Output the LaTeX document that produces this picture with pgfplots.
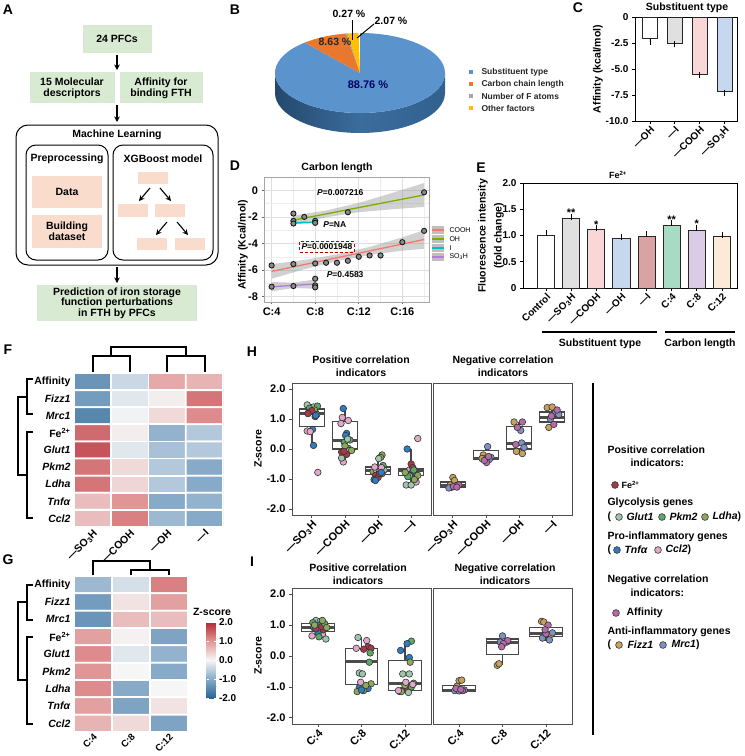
\documentclass[border=0pt]{standalone}
\usepackage{fontspec}
\setmainfont{Liberation Sans}
\usepackage{pgfplots}
\pgfplotsset{compat=1.18}
\usepgfplotslibrary{statistics}
\usetikzlibrary{arrows.meta}

\newcommand{\fsz}[2]{\fontsize{#1}{#2}\selectfont}

\definecolor{boxgreen}{HTML}{D9EAD3}
\definecolor{boxpeach}{HTML}{F9DCCB}
\definecolor{pieblue}{HTML}{5B94CD}
\definecolor{piebluedk}{HTML}{2D5B88}
\definecolor{pieorange}{HTML}{E9782F}
\definecolor{piegray}{HTML}{A5A5A5}
\definecolor{piegold}{HTML}{FFC000}
\definecolor{ggred}{HTML}{F8766D}
\definecolor{gggreen}{HTML}{7CAE00}
\definecolor{ggcyan}{HTML}{00BFC4}
\definecolor{ggpurple}{HTML}{C77CFF}
\definecolor{cFe}{HTML}{A63A4B}
\definecolor{cGlut}{HTML}{A0C4AE}
\definecolor{cPkm}{HTML}{5DA864}
\definecolor{cLdha}{HTML}{8DAA5A}
\definecolor{cTnf}{HTML}{2E7DC0}
\definecolor{cCcl}{HTML}{E2A8C8}
\definecolor{cAff}{HTML}{B56BA8}
\definecolor{cFizz}{HTML}{C8A25C}
\definecolor{cMrc}{HTML}{7F92C4}
\definecolor{frm}{HTML}{4D4D4D}
\definecolor{bGray}{HTML}{E0E0E0}
\definecolor{bPink}{HTML}{F9D6D7}
\definecolor{bBlue}{HTML}{C7D7ED}
\definecolor{bRose}{HTML}{D9A3A4}
\definecolor{bMint}{HTML}{A7DBC3}
\definecolor{bLav}{HTML}{DACCE6}
\definecolor{bPeach}{HTML}{FCEAD7}

\pgfplotsset{
  every axis/.append style={scale only axis,
    font=\bfseries\fsz{10.5}{12},
    tick label style={font=\bfseries\fsz{10}{11}}},
  colormap={zs}{rgb255(0cm)=(42,100,148); rgb255(1cm)=(135,170,200);
    rgb255(2cm)=(246,246,246); rgb255(3cm)=(225,150,150); rgb255(4cm)=(180,40,50)},
  gpbar/.style 2 args={ybar, bar shift=0pt, bar width=#1, fill=#2, draw=black!85,
    line width=0.8pt, error bars/y explicit,
    error bars/error bar style={line width=0.8pt, black},
    error bars/error mark options={line width=0.8pt, mark size=3pt, black}},
  boxpanel/.style={ymin=-2.2, ymax=2.2, axis line style={frm, line width=1pt},
    tick pos=left, tick align=outside, major tick length=3pt,
    tick style={frm, line width=0.8pt},
    tick label style={font=\bfseries\fsz{11}{12}},
    xticklabel style={rotate=45, anchor=north east, inner sep=1pt}},
  bx/.style={draw=black!72, line width=1.3pt, fill=white,
    boxplot/draw direction=y,
    boxplot/box extend=0.75, boxplot/whisker extend=0,
    boxplot/every median/.style={draw=black!70, line width=3pt}},
  jit/.style={scatter, only marks, scatter src=explicit symbolic, mark size=3.3pt,
    scatter/classes={
      fe={mark=*, draw=black!80, fill=cFe, line width=0.6pt},
      gl={mark=*, draw=black!80, fill=cGlut, line width=0.6pt},
      pk={mark=*, draw=black!80, fill=cPkm, line width=0.6pt},
      ld={mark=*, draw=black!80, fill=cLdha, line width=0.6pt},
      tn={mark=*, draw=black!80, fill=cTnf, line width=0.6pt},
      cc={mark=*, draw=black!80, fill=cCcl, line width=0.6pt},
      af={mark=*, draw=black!80, fill=cAff, line width=0.6pt},
      fz={mark=*, draw=black!80, fill=cFizz, line width=0.6pt},
      mr={mark=*, draw=black!80, fill=cMrc, line width=0.6pt}}},
  heat/.style={y dir=reverse, enlargelimits=false,
    axis line style={draw=none}, major tick length=0pt,
    point meta min=-2, point meta max=2, colormap name=zs,
    ytick={1,...,9},
    yticklabels={Affinity, \textit{Fizz1}, \textit{Mrc1}, Fe\textsuperscript{2+},
      \textit{Glut1}, \textit{Pkm2}, \textit{Ldha}, \textit{Tnfα}, \textit{Ccl2}},
    tick label style={font=\bfseries\fsz{10.5}{12}},
    xticklabel style={rotate=45, anchor=north east, inner sep=1pt}}
}

\begin{document}
\begin{tikzpicture}[font=\bfseries\fsz{10.5}{11},
  ar/.style={-{Stealth[length=5.5pt,width=5.5pt]}, line width=1.3pt}]
\path[use as bounding box] (0pt,0pt) rectangle (745pt,-756pt);

% panel letters
\begin{scope}[every node/.style={font=\bfseries\fsz{14}{14}}]
\node at (8pt,-10pt) {A};
\node at (235pt,-10pt) {B};
\node at (578pt,-8pt) {C};
\node at (235pt,-166pt) {D};
\node at (481pt,-168pt) {E};
\node at (8pt,-350pt) {F};
\node at (8pt,-560pt) {G};
\node at (252pt,-352pt) {H};
\node at (252pt,-562pt) {I};
\end{scope}

% ---------------- A: workflow
\begin{scope}[every node/.style={font=\bfseries\fsz{10.5}{11}, align=center}]
\fill[boxgreen] (83pt,-25pt) rectangle (152pt,-53pt);
\node at (117pt,-39pt) {24 PFCs};
\draw[ar] (117pt,-55pt) -- (117pt,-70pt);
\fill[boxgreen] (30pt,-72pt) rectangle (115pt,-103pt);
\node at (72pt,-88pt) {15 Molecular\\descriptors};
\fill[boxgreen] (120pt,-72pt) rectangle (203pt,-103pt);
\node at (161pt,-88pt) {Affinity for\\binding FTH};
\draw[ar] (117pt,-105pt) -- (117pt,-122pt);
\draw[line width=1pt, rounded corners=12pt] (16pt,-125pt) rectangle (218pt,-265pt);
\node at (117pt,-135pt) {Machine Learning};
\draw[line width=1pt, rounded corners=10pt] (26pt,-145pt) rectangle (108pt,-260pt);
\node at (67pt,-159pt) {Preprocessing};
\fill[boxpeach] (32pt,-176pt) rectangle (102pt,-208pt);
\node at (67pt,-192pt) {Data};
\fill[boxpeach] (32pt,-215pt) rectangle (102pt,-248pt);
\node at (67pt,-231pt) {Building\\dataset};
\draw[line width=1pt, rounded corners=10pt] (113pt,-145pt) rectangle (213pt,-260pt);
\node at (163pt,-159pt) {XGBoost model};
\fill[boxpeach] (138pt,-172pt) rectangle (168pt,-184pt);
\fill[boxpeach] (118pt,-204pt) rectangle (148pt,-217pt);
\fill[boxpeach] (155pt,-204pt) rectangle (185pt,-217pt);
\fill[boxpeach] (137pt,-238pt) rectangle (167pt,-250pt);
\fill[boxpeach] (175pt,-238pt) rectangle (205pt,-250pt);
\draw[ar, line width=1.1pt] (150pt,-188pt) -- (139pt,-201pt);
\draw[ar, line width=1.1pt] (160pt,-188pt) -- (171pt,-201pt);
\draw[ar, line width=1.1pt] (167pt,-222pt) -- (156pt,-235pt);
\draw[ar, line width=1.1pt] (177pt,-222pt) -- (188pt,-235pt);
\draw[ar] (117pt,-267pt) -- (117pt,-283pt);
\fill[boxgreen] (37pt,-285pt) rectangle (197pt,-321pt);
\node[font=\bfseries\fsz{10.5}{10.6}] at (117pt,-303pt) {Prediction of iron storage\\function perturbations\\in FTH by PFCs};
\end{scope}

% ---------------- B: pie
\pgfmathsetmacro\aA{90-3.6*88.76}
\pgfmathsetmacro\aB{\aA-3.6*8.63}
\pgfmathsetmacro\aC{\aB-3.6*0.27}
\pgfmathsetmacro\aD{\aC-3.6*2.07}
\begin{axis}[at={(275pt,-33pt)}, anchor=north west, width=170pt, height=80pt,
  xmin=-1, xmax=1, ymin=-1, ymax=1, hide axis, clip=false]
\shade[left color=piebluedk!80!black, right color=piebluedk!90!pieblue, middle color=piebluedk!70!pieblue]
  (axis cs:-1,0) arc[start angle=180, end angle=360, x radius=85pt, y radius=40pt]
  -- ++(0pt,-20pt) arc[start angle=0, end angle=-180, x radius=85pt, y radius=40pt] -- cycle;
\fill[pieblue] (axis cs:0,0) -- +(\aA:85pt and 40pt) arc[start angle=\aA, end angle=90, x radius=85pt, y radius=40pt] -- cycle;
\fill[pieorange] (axis cs:0,0) -- +(\aB:85pt and 40pt) arc[start angle=\aB, end angle=\aA, x radius=85pt, y radius=40pt] -- cycle;
\fill[piegray] (axis cs:0,0) -- +(\aC:85pt and 40pt) arc[start angle=\aC, end angle=\aB, x radius=85pt, y radius=40pt] -- cycle;
\fill[piegold] (axis cs:0,0) -- +(\aD:85pt and 40pt) arc[start angle=\aD, end angle=\aC, x radius=85pt, y radius=40pt] -- cycle;
\end{axis}
\node[text=blue!40!black, font=\bfseries\fsz{11}{12}] at (368pt,-85pt) {88.76 \%};
\node[text=black!85, font=\bfseries\fsz{10.5}{12}] at (335pt,-42pt) {8.63 \%};
\node[font=\bfseries\fsz{10.5}{12}] at (349pt,-14pt) {0.27 \%};
\node[font=\bfseries\fsz{10.5}{12}] at (391pt,-21pt) {2.07 \%};
\draw[line width=1pt] (352pt,-20pt) -- (352pt,-40pt);
\draw[line width=1pt] (374pt,-24pt) -- (357pt,-38pt);
\begin{scope}[every node/.style={anchor=west, font=\bfseries\fsz{8.5}{10}, text=black!85}]
\fill[pieblue] (469pt,-70pt) rectangle (473pt,-74pt);
\node at (478pt,-72pt) {Substituent type};
\fill[pieorange] (469pt,-82pt) rectangle (473pt,-86pt);
\node at (478pt,-84pt) {Carbon chain length};
\fill[piegray] (469pt,-94pt) rectangle (473pt,-98pt);
\node at (478pt,-96pt) {Number of F atoms};
\fill[piegold] (469pt,-106pt) rectangle (473pt,-110pt);
\node at (478pt,-108pt) {Other factors};
\end{scope}

% ---------------- C: affinity by substituent
\begin{axis}[at={(635pt,-17pt)}, anchor=north west, width=102pt, height=104pt,
  xmin=0.4, xmax=4.5, ymin=-10, ymax=0,
  ytick={-10,-7.5,-5,-2.5,0}, yticklabels={-10.0,-7.5,-5.0,-2.5,0},
  xtick={1,2,3,4}, xticklabels={—OH,—I,—COOH,—SO\textsubscript{3}H},
  xticklabel style={rotate=45, anchor=north east, inner sep=1pt},
  tick pos=left, tick align=outside, major tick length=3pt,
  axis line style={line width=0.9pt}, tick style={line width=0.8pt, black}]
\addplot[gpbar={0.6}{white}, error bars/y dir=minus] coordinates {(1,-2.08) +- (0,0.3)};
\addplot[gpbar={0.6}{bGray}, error bars/y dir=minus] coordinates {(2,-2.5) +- (0,0.12)};
\addplot[gpbar={0.6}{bPink}, error bars/y dir=minus] coordinates {(3,-5.5) +- (0,0.05)};
\addplot[gpbar={0.6}{bBlue}, error bars/y dir=minus] coordinates {(4,-7.2) +- (0,0.15)};
\end{axis}
\node at (687pt,-8pt) {Substituent type};
\node[rotate=90] at (598pt,-69pt) {Affinity (kcal/mol)};

% ---------------- D: carbon length regression
\begin{axis}[at={(264pt,-177pt)}, anchor=north west, width=165pt, height=125pt,
  xmin=3.3, xmax=18.45, ymin=-8.4, ymax=1,
  xtick={4,8,12,16}, xticklabels={C:4,C:8,C:12,C:16},
  ytick={-8,-6,-4,-2,0}, yticklabels={-8,-6,-4,-2,0},
  minor xtick={6,10,14,18}, minor ytick={-7,-5,-3,-1,1},
  grid=both, major grid style={black!13, line width=0.6pt},
  minor grid style={black!7, line width=0.4pt},
  axis line style={black!35, line width=0.8pt},
  tick pos=left, tick align=outside, major tick length=2.5pt, minor tick length=0pt,
  tick style={black!60, line width=0.6pt},
  tick label style={font=\bfseries\fsz{11}{12}}]
\addplot[fill=black!40, fill opacity=0.45, draw=none] coordinates {
  (4,-5.55)(7,-5.24)(10,-4.82)(13,-4.26)(16,-3.54)(18,-3.0)
  (18,-4.4)(16,-4.54)(13,-4.86)(10,-5.32)(7,-5.94)(4,-6.65)};
\addplot[fill=black!40, fill opacity=0.45, draw=none] coordinates {
  (6,-1.9)(9,-1.52)(12,-0.95)(15,-0.22)(18,0.55)
  (18,-1.25)(15,-1.43)(12,-1.65)(9,-2.03)(6,-2.6)};
\addplot[fill=black!40, fill opacity=0.45, draw=none] coordinates {
  (6,-2.36)(8,-2.32)(8,-2.48)(6,-2.54)};
\addplot[fill=black!40, fill opacity=0.45, draw=none] coordinates {
  (4,-6.9)(6,-6.95)(8,-6.7)(8,-7.4)(6,-7.35)(4,-7.6)};
\addplot[ggred, line width=1.3pt] coordinates {(4,-6.1)(18,-3.7)};
\addplot[gggreen, line width=1.3pt] coordinates {(6,-2.25)(18,-0.35)};
\addplot[ggcyan, line width=1.3pt] coordinates {(6,-2.45)(8,-2.4)};
\addplot[ggpurple!70!gray, line width=1.3pt] coordinates {(4,-7.25)(8,-7.05)};
\addplot[only marks, mark=*, mark size=2.6pt,
  mark options={fill=black!45, draw=black!90, line width=0.9pt}] coordinates {
  (4,-5.65)(6,-5.55)(8,-5.5)(9,-5.45)(10,-5.45)(11,-5.3)(12,-5.0)(13,-4.9)(14,-4.9)(16,-3.9)(18,-3.05)
  (6,-1.75)(7,-2.0)(11,-1.65)(18,-0.15)
  (6,-2.3)(6,-2.5)(8,-2.3)(8,-2.45)
  (4,-7.25)(6,-7.2)(8,-6.65)(8,-7.15)(8,-7.3)};
\node[font=\bfseries\fsz{8.5}{9}] at (axis cs:10.3,-0.2) {\textit{P}=0.007216};
\node[font=\bfseries\fsz{8.5}{9}] at (axis cs:9.8,-2.61) {\textit{P}=NA};
\node[font=\bfseries\fsz{8.5}{9}, draw=red!75!black, densely dashed, line width=0.9pt, inner sep=2pt]
  at (axis cs:9.08,-4.26) {\textit{P}=0.0001948};
\node[font=\bfseries\fsz{8.5}{9}] at (axis cs:10.75,-6.37) {\textit{P}=0.4583};
\end{axis}
\node at (337pt,-168pt) {Carbon length};
\node[rotate=90] at (243pt,-245pt) {Affinity (Kcal/mol)};
\begin{scope}[every node/.style={anchor=west, font=\fsz{7}{8}}]
\fill[black!25] (432pt,-226pt) rectangle (444pt,-234pt);
\draw[ggred, line width=1.3pt] (432pt,-230pt) -- (444pt,-230pt);
\node at (446pt,-230pt) {COOH};
\fill[black!25] (432pt,-235pt) rectangle (444pt,-243pt);
\draw[gggreen, line width=1.3pt] (432pt,-239pt) -- (444pt,-239pt);
\node at (446pt,-239pt) {OH};
\fill[black!25] (432pt,-244pt) rectangle (444pt,-252pt);
\draw[ggcyan, line width=1.3pt] (432pt,-248pt) -- (444pt,-248pt);
\node at (446pt,-248pt) {I};
\fill[black!25] (432pt,-253pt) rectangle (444pt,-261pt);
\draw[ggpurple!70!gray, line width=1.3pt] (432pt,-257pt) -- (444pt,-257pt);
\node at (446pt,-257pt) {SO\textsubscript{3}H};
\end{scope}

% ---------------- E: Fe2+ fluorescence
\begin{axis}[at={(523pt,-183pt)}, anchor=north west, width=214pt, height=105pt,
  xmin=0.085, xmax=8.6, ymin=0, ymax=2,
  ytick={0,0.5,1,1.5,2}, yticklabels={0,0.5,1.0,1.5,2.0},
  xtick={1,...,8},
  xticklabels={Control,—SO\textsubscript{3}H,—COOH,—OH,—I,C:4,C:8,C:12},
  xticklabel style={rotate=45, anchor=north east, inner sep=1pt},
  tick pos=left, tick align=outside, major tick length=3pt,
  axis line style={line width=0.9pt}, tick style={line width=0.8pt, black},
  clip=false]
\addplot[gpbar={0.68}{white}, error bars/y dir=plus] coordinates {(1,1.0) +- (0,0.04)};
\addplot[gpbar={0.68}{bGray}, error bars/y dir=plus] coordinates {(2,1.33) +- (0,0.02)};
\addplot[gpbar={0.68}{bPink}, error bars/y dir=plus] coordinates {(3,1.11) +- (0,0.03)};
\addplot[gpbar={0.68}{bBlue}, error bars/y dir=plus] coordinates {(4,0.94) +- (0,0.04)};
\addplot[gpbar={0.68}{bRose}, error bars/y dir=plus] coordinates {(5,0.98) +- (0,0.05)};
\addplot[gpbar={0.68}{bMint}, error bars/y dir=plus] coordinates {(6,1.19) +- (0,0.04)};
\addplot[gpbar={0.68}{bLav}, error bars/y dir=plus] coordinates {(7,1.1) +- (0,0.05)};
\addplot[gpbar={0.68}{bPeach}, error bars/y dir=plus] coordinates {(8,0.98) +- (0,0.03)};
\node[font=\bfseries\fsz{11}{12}] at (axis cs:2,1.43) {**};
\node[font=\bfseries\fsz{11}{12}] at (axis cs:3,1.21) {*};
\node[font=\bfseries\fsz{11}{12}] at (axis cs:6,1.31) {**};
\node[font=\bfseries\fsz{11}{12}] at (axis cs:7,1.22) {*};
\end{axis}
\node[font=\bfseries\fsz{9}{10}] at (618pt,-175pt) {Fe\textsuperscript{2+}};
\node[rotate=90, align=center, font=\bfseries\fsz{10.5}{16}] at (491pt,-236pt) {Fluorescence intensity\\(fold change)};
\draw[line width=1.2pt] (542pt,-332pt) -- (657pt,-332pt);
\draw[line width=1.2pt] (665pt,-332pt) -- (735pt,-332pt);
\node at (600pt,-344pt) {Substituent type};
\node at (700pt,-344pt) {Carbon length};

% ---------------- F: heatmap substituent
\begin{axis}[heat, at={(74pt,-373pt)}, anchor=north west, width=149pt, height=154pt,
  xmin=0.5, xmax=4.5, ymin=0.5, ymax=9.5, xtick={1,2,3,4},
  xticklabels={—SO\textsubscript{3}H,—COOH,—OH,—I}]
\addplot[matrix plot*, mesh/cols=4, point meta=explicit, draw=white, line width=1.8pt] table[meta=z] {
x y z
1 1 -1.3
2 1 -0.4
3 1 0.8
4 1 0.7
1 2 -1.2
2 2 -0.2
3 2 0.1
4 2 1.3
1 3 -1.5
2 3 -0.05
3 3 0.3
4 3 1.1
1 4 1.4
2 4 0.1
3 4 -0.9
4 4 -0.6
1 5 1.6
2 5 -0.2
3 5 -0.7
4 5 -0.6
1 6 1.3
2 6 0.3
3 6 -0.6
4 6 -1.0
1 7 1.3
2 7 0.35
3 7 -0.6
4 7 -1.0
1 8 0.6
2 8 1.0
3 8 -1.0
4 8 -0.9
1 9 0.6
2 9 1.2
3 9 -0.8
4 9 -1.0
};
\end{axis}
\begin{scope}[line width=1.4pt]
\draw (111pt,-356pt) -- (111pt,-347pt) -- (186pt,-347pt) -- (186pt,-356pt);
\draw (93pt,-372pt) -- (93pt,-356pt) -- (130pt,-356pt) -- (130pt,-372pt);
\draw (167pt,-372pt) -- (167pt,-356pt) -- (205pt,-356pt) -- (205pt,-372pt);
\draw (33pt,-379pt) -- (27pt,-379pt) -- (27pt,-414pt) -- (33pt,-414pt);
\draw (33pt,-432pt) -- (27pt,-432pt) -- (27pt,-518pt) -- (33pt,-518pt);
\draw (27pt,-397pt) -- (18pt,-397pt) -- (18pt,-475pt) -- (27pt,-475pt);
\end{scope}

% ---------------- G: heatmap carbon length
\begin{axis}[heat, at={(74pt,-576pt)}, anchor=north west, width=114pt, height=156pt,
  xmin=0.5, xmax=3.5, ymin=0.5, ymax=9.5, xtick={1,2,3},
  xticklabels={C:4,C:8,C:12},
  xticklabel style={font=\bfseries\fsz{9.5}{10}, inner sep=0.5pt},
  colorbar,
  colorbar style={at={(parent axis.north east)}, anchor=north west,
    xshift=10pt, yshift=-46pt, width=9pt, height=76pt,
    ytick={-2,-1,0,1,2}, yticklabels={-2.0,-1.0,0.0,1.0,2.0},
    axis line style={draw=none}, major tick length=2pt,
    tick style={white, line width=0.8pt},
    yticklabel style={font=\bfseries\fsz{10}{11}}}]
\addplot[matrix plot*, mesh/cols=3, point meta=explicit, draw=white, line width=1.8pt] table[meta=z] {
x y z
1 1 -0.8
2 1 -0.3
3 1 1.2
1 2 -1.2
2 2 0.2
3 2 0.9
1 3 -1.3
2 3 0.6
3 3 0.6
1 4 0.9
2 4 0.05
3 4 -1.1
1 5 1.1
2 5 -0.2
3 5 -0.9
1 6 1.0
2 6 0.0
3 6 -1.0
1 7 1.1
2 7 -1.0
3 7 0.0
1 8 0.9
2 8 -1.1
3 8 0.2
1 9 0.7
2 9 0.3
3 9 -1.1
};
\end{axis}
\node at (212pt,-612pt) {Z-score};
\begin{scope}[line width=1.4pt]
\draw (93pt,-575pt) -- (93pt,-561pt) -- (150pt,-561pt) -- (150pt,-570pt);
\draw (131pt,-575pt) -- (131pt,-570pt) -- (169pt,-570pt) -- (169pt,-575pt);
\draw (33pt,-585pt) -- (27pt,-585pt) -- (27pt,-620pt) -- (33pt,-620pt);
\draw (33pt,-637pt) -- (27pt,-637pt) -- (27pt,-724pt) -- (33pt,-724pt);
\draw (27pt,-602pt) -- (18pt,-602pt) -- (18pt,-680pt) -- (27pt,-680pt);
\end{scope}

% ---------------- H: box plots, substituent
\begin{axis}[boxpanel, at={(292pt,-383pt)}, anchor=north west, width=139pt, height=132pt,
  xmin=0.4, xmax=4.6, ytick={-2,-1,0,1,2}, yticklabels={-2.0,-1.0,0.0,1.0,2.0},
  xtick={1,2,3,4}, xticklabels={—SO\textsubscript{3}H,—COOH,—OH,—I}]
\addplot[bx, boxplot prepared={lower whisker=0.12, lower quartile=0.75, median=1.2, upper quartile=1.33, upper whisker=1.47, draw position=1}] coordinates {};
\addplot[bx, boxplot prepared={lower whisker=-0.45, lower quartile=0.0, median=0.3, upper quartile=0.92, upper whisker=1.35, draw position=2}] coordinates {};
\addplot[bx, boxplot prepared={lower whisker=-1.05, lower quartile=-0.85, median=-0.72, upper quartile=-0.6, upper whisker=-0.2, draw position=3}] coordinates {};
\addplot[bx, boxplot prepared={lower whisker=-1.2, lower quartile=-0.88, median=-0.72, upper quartile=-0.65, upper whisker=0.0, draw position=4}] coordinates {};
\addplot[jit] table[meta=c] {
x y c
0.86 1.47 gl
1.05 1.40 gl
1.12 1.20 gl
0.93 1.36 pk
1.17 1.43 pk
0.98 1.25 pk
1.08 1.30 ld
0.90 1.22 ld
1.15 1.15 ld
1.00 1.28 fe
0.88 1.18 fe
1.10 1.08 fe
1.12 1.12 tn
1.02 0.65 tn
1.05 0.12 tn
0.86 0.60 cc
0.95 0.58 cc
1.18 -0.78 cc
1.95 1.35 tn
2.05 0.52 tn
2.02 0.45 tn
1.92 1.05 cc
2.10 0.95 cc
1.88 0.85 cc
1.95 -0.43 cc
2.15 0.30 pk
1.98 0.22 pk
2.10 0.02 pk
2.08 0.33 gl
1.90 -0.30 gl
2.12 -0.05 gl
2.20 -0.05 ld
2.00 0.10 ld
1.90 -0.10 fe
2.05 -0.18 fe
1.97 -0.08 fe
3.12 -0.20 ld
3.08 -0.28 ld
2.85 -0.75 ld
3.15 -0.55 pk
3.12 -0.82 pk
2.95 -0.65 pk
3.02 -0.32 gl
2.95 -0.70 gl
3.18 -0.70 gl
2.90 -0.60 cc
3.05 -0.75 cc
3.10 -0.62 cc
2.92 -0.88 fe
3.00 -0.95 fe
3.05 -0.82 fe
2.88 -1.02 tn
3.10 -0.78 tn
2.92 -1.05 tn
4.20 0.35 cc
4.15 -1.10 cc
3.95 -0.70 cc
3.88 0.00 tn
4.05 -0.75 tn
4.12 -0.80 tn
4.00 -0.50 fe
4.05 -0.62 fe
3.90 -0.85 fe
3.85 -1.20 gl
4.00 -1.20 gl
3.95 -0.90 gl
3.90 -0.92 pk
4.15 -0.92 pk
4.08 -0.70 pk
4.20 -0.88 ld
3.82 -0.78 ld
4.10 -1.02 ld
};
\end{axis}
\begin{axis}[boxpanel, at={(433pt,-383pt)}, anchor=north west, width=139pt, height=132pt,
  xmin=0.4, xmax=4.6, ytick=\empty,
  xtick={1,2,3,4}, xticklabels={—SO\textsubscript{3}H,—COOH,—OH,—I}]
\addplot[bx, boxplot prepared={lower whisker=-1.3, lower quartile=-1.28, median=-1.22, upper quartile=-1.1, upper whisker=-0.95, draw position=1}] coordinates {};
\addplot[bx, boxplot prepared={lower whisker=-0.45, lower quartile=-0.35, median=-0.3, upper quartile=-0.05, upper whisker=0.08, draw position=2}] coordinates {};
\addplot[bx, boxplot prepared={lower whisker=-0.15, lower quartile=0.0, median=0.2, upper quartile=0.75, upper whisker=0.9, draw position=3}] coordinates {};
\addplot[bx, boxplot prepared={lower whisker=0.72, lower quartile=0.9, median=1.05, upper quartile=1.23, upper whisker=1.4, draw position=4}] coordinates {};
\addplot[jit] table[meta=c] {
x y c
1.00 -0.95 fz
1.05 -1.05 fz
0.92 -1.20 fz
0.95 -1.28 mr
0.88 -1.30 mr
1.10 -1.22 mr
1.18 -1.20 af
1.02 -1.25 af
1.12 -1.27 af
2.05 0.08 mr
2.15 -0.28 mr
2.10 -0.35 mr
1.92 -0.20 fz
2.00 -0.30 fz
1.88 -0.32 fz
2.02 -0.45 af
1.95 -0.38 af
2.08 -0.25 af
2.85 0.90 fz
2.92 -0.08 fz
3.10 -0.15 fz
3.05 0.62 mr
3.08 0.20 mr
3.15 0.05 mr
3.10 0.90 af
2.95 0.72 af
2.90 0.15 af
3.85 1.38 fz
4.00 1.40 fz
3.90 0.72 fz
4.10 1.20 mr
4.20 1.15 mr
3.95 1.00 mr
4.05 0.82 af
4.15 1.30 af
3.98 1.10 af
};
\end{axis}
\node[align=center, font=\bfseries\fsz{10.5}{13}] at (361pt,-366pt) {Positive correlation\\indicators};
\node[align=center, font=\bfseries\fsz{10.5}{13}] at (503pt,-366pt) {Negative correlation\\indicators};
\node[rotate=90] at (258pt,-449pt) {Z-score};

% ---------------- I: box plots, carbon length
\begin{axis}[boxpanel, at={(292pt,-588pt)}, anchor=north west, width=139pt, height=136pt,
  xmin=0.4, xmax=3.6, ytick={-2,-1,0,1,2}, yticklabels={-2.0,-1.0,0.0,1.0,2.0},
  xtick={1,2,3}, xticklabels={C:4,C:8,C:12}]
\addplot[bx, boxplot prepared={lower whisker=0.55, lower quartile=0.8, median=0.92, upper quartile=1.05, upper whisker=1.15, draw position=1}] coordinates {};
\addplot[bx, boxplot prepared={lower whisker=-1.15, lower quartile=-0.93, median=-0.18, upper quartile=0.25, upper whisker=0.6, draw position=2}] coordinates {};
\addplot[bx, boxplot prepared={lower whisker=-1.18, lower quartile=-1.12, median=-0.9, upper quartile=-0.15, upper whisker=0.48, draw position=3}] coordinates {};
\addplot[jit] table[meta=c] {
x y c
0.86 0.65 cc
1.10 0.70 cc
0.95 1.15 gl
1.05 1.12 gl
1.18 0.55 gl
0.90 0.92 tn
1.02 1.00 tn
1.00 0.75 tn
1.12 0.85 fe
1.08 0.95 fe
0.95 0.88 fe
1.15 1.05 pk
0.88 1.08 pk
1.02 0.62 pk
1.20 0.92 ld
0.92 1.00 ld
1.10 1.15 ld
1.92 0.60 gl
2.12 0.50 cc
2.15 0.30 fe
2.22 0.25 fe
2.05 0.22 fe
1.88 0.25 cc
2.20 0.10 pk
2.18 -0.20 pk
1.95 -0.55 gl
2.02 -0.58 gl
2.22 -0.90 ld
2.15 -1.05 tn
1.95 -1.02 tn
2.05 -1.12 pk
1.90 -1.15 ld
2.00 -1.10 tn
2.10 -0.95 ld
1.98 -0.85 cc
3.15 0.48 pk
3.05 0.40 tn
2.90 0.18 tn
3.10 -0.05 tn
3.12 -0.20 ld
2.95 -0.58 gl
3.10 -0.58 gl
3.20 -0.88 pk
2.88 -1.15 fe
2.95 -1.10 fe
3.05 -1.05 fe
3.00 -0.95 ld
3.15 -1.00 pk
2.92 -1.15 ld
3.08 -1.18 gl
3.18 -0.92 cc
2.85 -1.12 cc
3.02 -0.85 cc
};
\end{axis}
\begin{axis}[boxpanel, at={(433pt,-588pt)}, anchor=north west, width=139pt, height=136pt,
  xmin=0.4, xmax=3.6, ytick=\empty,
  xtick={1,2,3}, xticklabels={C:4,C:8,C:12}]
\addplot[bx, boxplot prepared={lower whisker=-1.15, lower quartile=-1.15, median=-1.12, upper quartile=-0.95, upper whisker=-0.78, draw position=1}] coordinates {};
\addplot[bx, boxplot prepared={lower whisker=-0.3, lower quartile=0.05, median=0.45, upper quartile=0.55, upper whisker=0.65, draw position=2}] coordinates {};
\addplot[bx, boxplot prepared={lower whisker=0.5, lower quartile=0.62, median=0.72, upper quartile=0.93, upper whisker=1.12, draw position=3}] coordinates {};
\addplot[jit] table[meta=c] {
x y c
1.00 -0.80 fz
1.06 -0.78 fz
0.95 -0.98 fz
0.90 -1.12 mr
1.00 -1.13 mr
1.12 -1.10 mr
1.08 -1.12 af
0.93 -1.05 af
1.04 -1.08 af
1.88 -0.30 fz
1.92 -0.25 fz
2.05 0.48 fz
2.00 0.65 mr
2.10 0.45 mr
1.95 0.45 mr
2.12 0.50 af
2.02 0.40 af
1.98 0.30 af
2.90 1.12 fz
2.95 1.10 fz
3.12 0.70 fz
2.92 0.58 mr
3.08 0.52 mr
3.15 0.75 mr
3.05 1.00 af
3.00 0.72 af
2.98 0.85 af
};
\end{axis}
\node[align=center, font=\bfseries\fsz{10.5}{13}] at (358pt,-574pt) {Positive correlation\\indicators};
\node[align=center, font=\bfseries\fsz{10.5}{13}] at (505pt,-574pt) {Negative correlation\\indicators};
\node[rotate=90] at (258pt,-656pt) {Z-score};

% ---------------- legend for H and I
\draw[line width=1.5pt] (593pt,-383pt) -- (593pt,-735pt);
\begin{scope}[every node/.style={anchor=west, font=\bfseries\fsz{10.5}{12}},
  dot/.style={draw=black!80, line width=0.6pt, fill=#1}]
\node at (604pt,-450pt) {Positive correlation};
\node at (627pt,-463pt) {indicators:};
\filldraw[dot=cFe] (615pt,-485pt) circle (3.4pt);
\node[font=\bfseries\fsz{9}{10}] at (618pt,-485pt) {Fe\textsuperscript{2+}};
\node at (604pt,-503pt) {Glycolysis genes};
\node at (604pt,-517pt) {(};
\filldraw[dot=cGlut] (619pt,-517pt) circle (3.4pt);
\node at (623pt,-517pt) {\textit{Glut1}};
\filldraw[dot=cPkm] (662pt,-517pt) circle (3.4pt);
\node at (666pt,-517pt) {\textit{Pkm2}};
\filldraw[dot=cLdha] (705pt,-517pt) circle (3.4pt);
\node at (709pt,-517pt) {\textit{Ldha})};
\node at (604pt,-537pt) {Pro-inflammatory genes};
\node at (604pt,-550pt) {(};
\filldraw[dot=cTnf] (617pt,-550pt) circle (3.4pt);
\node at (621pt,-550pt) {\textit{Tnfα}};
\filldraw[dot=cCcl] (658pt,-550pt) circle (3.4pt);
\node at (662pt,-550pt) {\textit{Ccl2})};
\node at (604pt,-580pt) {Negative correlation};
\node at (627pt,-593pt) {indicators:};
\filldraw[dot=cAff] (616pt,-613pt) circle (3.4pt);
\node at (623pt,-613pt) {Affinity};
\node at (604pt,-632pt) {Anti-inflammatory genes};
\node at (604pt,-645pt) {(};
\filldraw[dot=cFizz] (619pt,-645pt) circle (3.4pt);
\node at (624pt,-645pt) {\textit{Fizz1}};
\filldraw[dot=cMrc] (663pt,-645pt) circle (3.4pt);
\node at (668pt,-645pt) {\textit{Mrc1})};
\end{scope}
\end{tikzpicture}
\end{document}
